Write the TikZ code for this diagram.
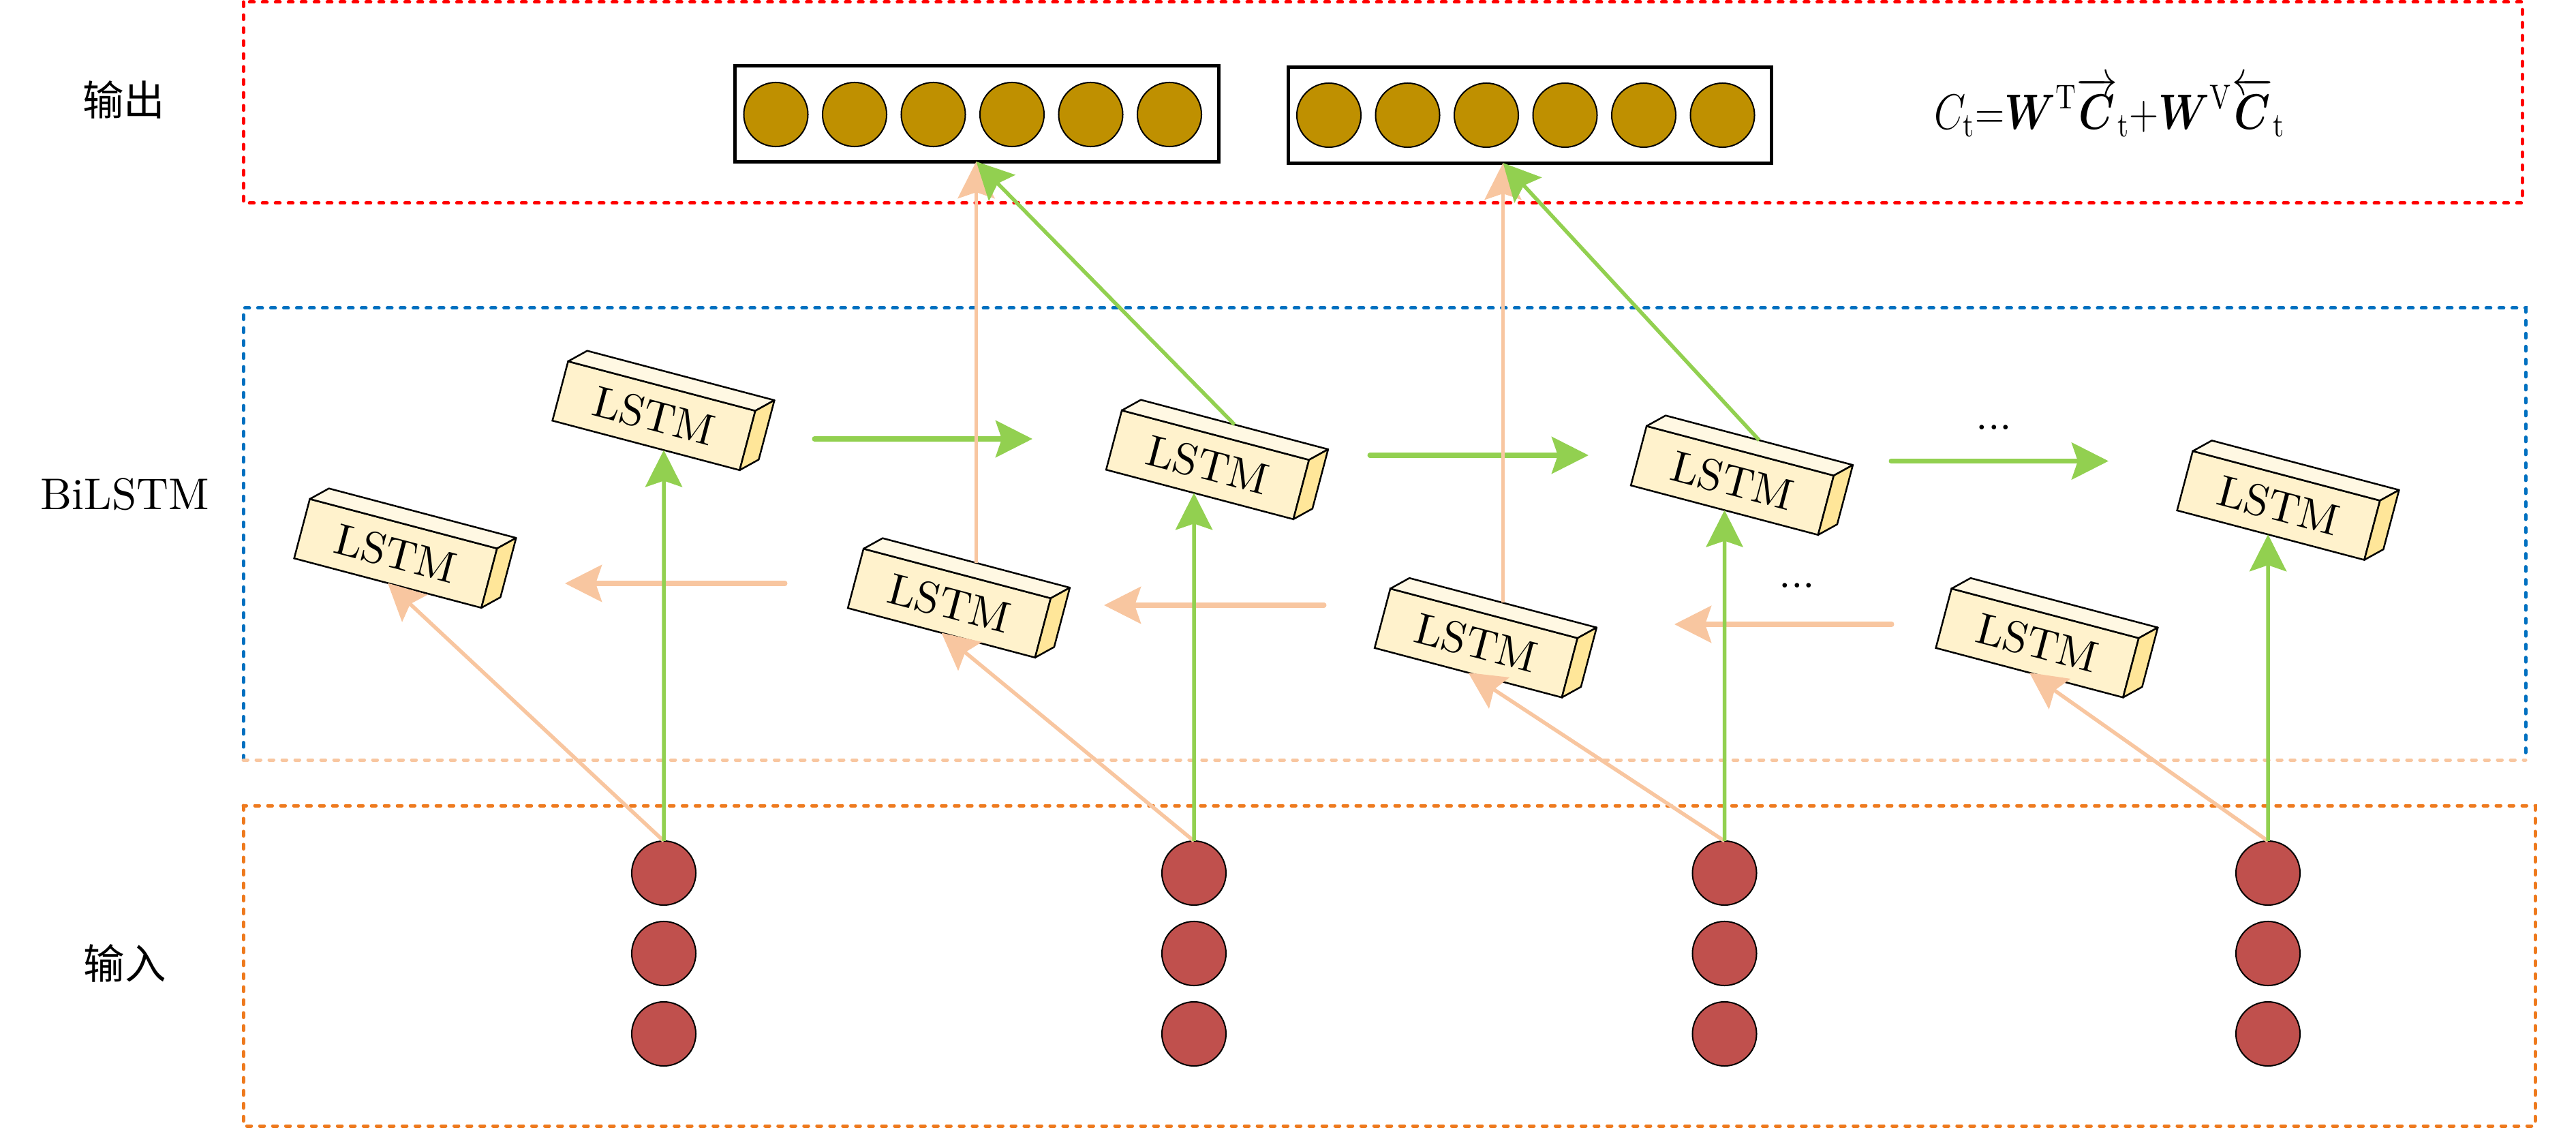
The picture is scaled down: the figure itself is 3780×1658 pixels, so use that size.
\documentclass[tikz,border=0pt]{standalone}
\usepackage{fontspec}
\usepackage{amsmath}
\usepackage{graphicx}
\setmainfont{lmroman10-regular}[Extension=.otf]
\newfontfamily\cjk{Noto Sans CJK SC}
\usetikzlibrary{arrows.meta,calc}
\definecolor{cgreen}{HTML}{92D050}
\definecolor{cpeach}{HTML}{F8C6A0}
\definecolor{cred}{HTML}{FF0000}
\definecolor{cblue}{HTML}{0070C0}
\definecolor{corange}{HTML}{EE7A1E}
\definecolor{cgold}{HTML}{BF9000}
\definecolor{cinput}{HTML}{C0504D}
\definecolor{lfront}{HTML}{FFF2CC}
\definecolor{ltop}{HTML}{FFF8E3}
\definecolor{lside}{HTML}{FFE699}
\begin{document}
\begin{tikzpicture}[x=0.01cm,y=-0.01cm,
  dashframe/.style={line width=0.05cm, line cap=round, dash pattern=on 0.065cm off 0.125cm},
  lstm/.style={draw, line width=0.025cm, fill=lfront, rotate=-14.8, minimum width=2.84cm, minimum height=0.9cm, inner sep=0pt, outer sep=0pt, font=\fontsize{18.3}{22}\selectfont},
  boxface/.style={draw, line width=0.025cm, line join=round},
  outbox/.style={draw, line width=0.05cm, minimum width=7.09cm, minimum height=1.4cm, inner sep=0pt, outer sep=0pt},
  outdot/.style={circle, draw, line width=0.02cm, fill=cgold, minimum size=0.94cm, inner sep=0pt},
  indot/.style={circle, draw, line width=0.02cm, fill=cinput, minimum size=0.94cm, inner sep=0pt, outer sep=0pt},
  arrowtip/.style={-{Stealth[length=0.54cm,width=0.54cm,inset=0.09cm]}},
  fwd/.style={draw=cgreen, line width=0.055cm, arrowtip},
  bwd/.style={draw=cpeach, line width=0.055cm, arrowtip},
  fwdh/.style={draw=cgreen, line width=0.07cm, line cap=round, arrowtip},
  bwdh/.style={draw=cpeach, line width=0.07cm, line cap=round, arrowtip},
  lab/.style={font=\fontsize{18.5}{22}\selectfont, inner sep=0pt},
  cjklab/.style={font=\fontsize{17.2}{20}\selectfont\cjk, inner sep=0pt}
]
\useasboundingbox (0,0) rectangle (3780,1658);

% frames
\draw[dashframe, draw=cred] (357,3) rectangle (3701,298);
\draw[dashframe, draw=cblue] (357,1115) -- (357,452) -- (3706,452) -- (3706,1115);
\draw[dashframe, draw=cpeach] (357,1115) -- (3706,1115);
\draw[dashframe, draw=corange] (357,1182) rectangle (3720,1652);

% row labels
\node[cjklab] (lout) at (182,146) {输出};
\node[lab, anchor=base] (lbi) at (183,748) {BiLSTM};
\node[cjklab] (lin) at (183,1413) {输入};

% output vectors
\node[outbox] (o1) at (1433.5,167) {};
\node[outbox] (o2) at (2245,169) {};
\foreach \i in {0,...,5} {
  \node[outdot] (oa\i) at (1138.5+115.5*\i,168) {};
  \node[outdot] (ob\i) at (1950+115.5*\i,169) {};
}

% formula
\node[anchor=base west, inner sep=0pt] (eq) at (2838,190)
  {\scalebox{0.82}[1]{\fontsize{20.5}{24}\selectfont $C_{\mathrm t}{=}\boldsymbol W^{\mathrm T}\overrightarrow{\boldsymbol C}_{\mathrm t}{+}\boldsymbol W^{\mathrm V}\overleftarrow{\boldsymbol C}_{\mathrm t}$}};

% input vectors
\foreach \c/\x in {1/974, 2/1752, 3/2530.5, 4/3328} {
  \node[indot] (x\c a) at (\x,1281) {};
  \node[indot] (x\c b) at (\x,1399) {};
  \node[indot] (x\c c) at (\x,1517) {};
}

% LSTM cells
\foreach \n/\x/\y in {F1/959.5/610, F2/1772/682, F3/2542/705, F4/3343.5/741.7,
                      B1/580.5/812, B2/1393/885, B3/2166/943.5, B4/2989.5/943.5} {
  \node[lstm] (\n) at (\x,\y) {LSTM};
  \draw[boxface, fill=ltop] (\n.north west) -- ++(28,-15.5) -- ($(\n.north east)+(28,-15.5)$) -- (\n.north east) -- cycle;
  \draw[boxface, fill=lside] (\n.north east) -- ++(28,-15.5) -- ($(\n.south east)+(28,-15.5)$) -- (\n.south east) -- cycle;
  \coordinate (\n top) at ($(\n.north)+(28,-15.5)$);
}

% dots
\node[lab, anchor=base, font=\fontsize{18}{22}\selectfont] (d1) at (2926,630) {...};
\node[lab, anchor=base, font=\fontsize{18}{22}\selectfont] (d2) at (2637,863) {...};

% horizontal recurrent arrows
\coordinate (h1s) at (1195,644);   \coordinate (h1e) at (1515,644);
\coordinate (h2s) at (2010,668);   \coordinate (h2e) at (2331,668);
\coordinate (h3s) at (2775,676.5); \coordinate (h3e) at (3094,676.5);
\coordinate (p1s) at (1152,856);   \coordinate (p1e) at (829,856);
\coordinate (p2s) at (1943,888);   \coordinate (p2e) at (1620,888);
\coordinate (p3s) at (2776,916);   \coordinate (p3e) at (2457,916);
\draw[fwdh] (h1s) -- (h1e);
\draw[fwdh] (h2s) -- (h2e);
\draw[fwdh] (h3s) -- (h3e);
\draw[bwdh] (p1s) -- (p1e);
\draw[bwdh] (p2s) -- (p2e);
\draw[bwdh] (p3s) -- (p3e);

% inputs to backward cells
\draw[bwd] (x1a.north) -- (B1.south);
\draw[bwd] (x2a.north) -- (B2.south);
\draw[bwd] (x3a.north) -- (B3.south);
\draw[bwd] (x4a.north) -- (B4.south);

% inputs to forward cells
\draw[fwd] (x1a.north) -- (intersection of x1a.north--x1a.south and F1.south west--F1.south east);
\draw[fwd] (x2a.north) -- (intersection of x2a.north--x2a.south and F2.south west--F2.south east);
\draw[fwd] (x3a.north) -- (intersection of x3a.north--x3a.south and F3.south west--F3.south east);
\draw[fwd] (x4a.north) -- (intersection of x4a.north--x4a.south and F4.south west--F4.south east);

% cells to outputs
\draw[bwd] (B2top) -- (B2top |- o1.south);
\draw[fwd] (F2top) -- (B2top |- o1.south);
\draw[bwd] (B3top) -- (B3top |- o2.south);
\draw[fwd] (F3top) -- (B3top |- o2.south);
\end{tikzpicture}
\end{document}
